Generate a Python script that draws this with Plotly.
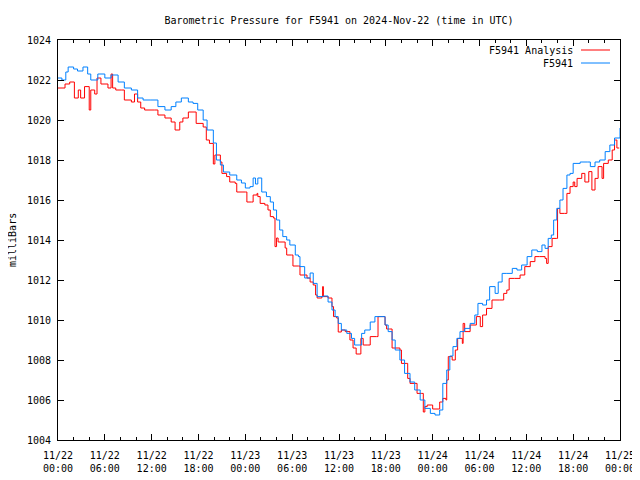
import pandas as pd
import plotly.graph_objects as go

BASE = "2024-11-22 00:00"

analysis_hours = [0, 0.9, 1.5, 2.1, 2.6, 2.9, 3.4, 4.0, 4.2, 4.7, 5.0, 5.5, 6.4, 6.8, 7.0, 7.4, 8.1, 8.5, 9.4, 9.8,
                  10.2, 10.6, 11.1, 12.4, 12.8, 13.7, 14.5, 15.0, 15.6, 16.0, 16.7, 17.3, 17.7, 18.6, 19.0, 19.4,
                  19.9, 20.1, 20.8, 21.0, 21.6, 22.0, 22.7, 22.9, 24.0, 24.2, 24.8, 25.0, 25.5, 25.6, 25.9, 26.5,
                  26.9, 27.2, 27.6, 27.8, 28.0, 28.2, 28.7, 29.1, 29.3, 29.9, 30.1, 30.8, 31.0, 31.6, 31.9, 32.3,
                  32.7, 33.0, 33.2, 33.8, 33.9, 34.0, 34.6, 35.1, 35.3, 35.7, 35.9, 36.3, 36.8, 37.4, 37.8, 38.2,
                  38.7, 38.8, 39.1, 39.7, 40.0, 40.8, 41.0, 41.5, 41.9, 42.1, 42.5, 42.8, 43.8, 44.0, 44.7, 44.8,
                  45.1, 45.7, 46.0, 46.6, 46.8, 47.0, 47.3, 47.9, 48.0, 48.7, 48.9, 49.3, 49.7, 49.8, 50.0, 50.5,
                  50.9, 51.2, 51.8, 51.9, 52.1, 52.8, 53.6, 54.1, 54.4, 54.9, 55.6, 56.6, 57.1, 57.5, 57.8, 58.5,
                  59.2, 59.8, 60.5, 61.1, 61.7, 62.4, 62.6, 62.8, 63.3, 63.9, 64.0, 64.3, 64.9, 65.2, 65.6, 66.0,
                  66.2, 66.5, 67.1, 67.5, 68.0, 68.4, 68.8, 69.2, 69.7, 69.9, 70.5, 71.0, 71.3, 71.6, 71.9]
analysis_mb = [1021.6, 1021.8, 1021.9, 1021.1, 1021.5, 1021.1, 1021.67, 1020.5, 1021.5, 1021.3, 1022.1, 1021.8,
               1021.6, 1022.3, 1021.6, 1021.5, 1021.5, 1021.0, 1020.9, 1021.3, 1020.9, 1020.6, 1020.5, 1020.5,
               1020.25, 1020.1, 1019.9, 1019.5, 1019.9, 1020.1, 1020.4, 1020.4, 1019.83, 1019.65, 1019.0, 1018.83,
               1017.8, 1018.25, 1017.9, 1017.33, 1017.17, 1016.9, 1016.83, 1016.4, 1016.4, 1015.9, 1015.9, 1016.25,
               1016.33, 1016.17, 1015.83, 1015.75, 1015.5, 1015.17, 1015.1, 1013.67, 1014.1, 1013.9, 1013.9,
               1013.6, 1013.25, 1013.25, 1012.7, 1012.7, 1012.25, 1012.25, 1012.1, 1011.9, 1011.75, 1011.25,
               1011.1, 1011.17, 1011.67, 1011.17, 1011.1, 1010.67, 1010.17, 1010.1, 1009.4, 1009.5, 1009.42,
               1009.0, 1008.6, 1008.3, 1008.3, 1009.08, 1008.75, 1008.75, 1009.17, 1009.17, 1010.17, 1010.17,
               1009.75, 1009.55, 1009.55, 1008.6, 1008.5, 1007.83, 1007.83, 1007.08, 1006.83, 1006.83, 1006.33,
               1006.33, 1005.4, 1005.67, 1005.75, 1005.75, 1005.55, 1005.55, 1005.9, 1006.08, 1006.0, 1007.0,
               1008.17, 1008.0, 1008.5, 1009.08, 1008.83, 1009.83, 1009.42, 1009.75, 1010.17, 1009.67, 1010.25,
               1010.58, 1011.0, 1011.0, 1011.33, 1011.5, 1012.08, 1012.08, 1012.25, 1012.67, 1012.92, 1013.17,
               1013.17, 1013.08, 1012.83, 1013.67, 1014.08, 1014.08, 1015.58, 1015.33, 1015.33, 1016.33, 1016.67,
               1016.9, 1016.67, 1017.08, 1017.33, 1016.9, 1017.42, 1016.5, 1017.08, 1017.67, 1017.08, 1017.83,
               1018.0, 1018.5, 1019.0, 1018.6, 1018.6]

station_hours = [0, 0.5, 1.0, 1.3, 2.0, 2.5, 3.2, 3.8, 4.2, 5.1, 6.0, 6.8, 7.7, 8.5, 9.4, 10.2, 10.9, 11.9, 12.8,
                 13.7, 14.5, 15.1, 15.8, 16.7, 17.3, 17.9, 18.6, 19.1, 19.9, 20.3, 20.8, 21.2, 22.0, 22.9, 23.5,
                 24.0, 24.6, 25.0, 25.3, 25.6, 26.1, 26.7, 27.2, 27.6, 28.0, 28.4, 28.8, 29.3, 29.7, 30.4, 30.8,
                 31.0, 31.6, 32.3, 32.7, 33.2, 34.0, 34.6, 35.1, 35.5, 35.9, 36.3, 37.0, 37.6, 38.0, 38.7, 38.9,
                 39.3, 40.0, 40.6, 41.5, 41.9, 42.3, 42.8, 43.2, 43.8, 44.4, 45.1, 45.7, 46.4, 47.0, 47.7, 48.3,
                 48.9, 49.3, 49.8, 50.2, 50.6, 51.1, 51.5, 52.1, 52.8, 53.4, 53.8, 54.4, 54.9, 55.3, 56.0, 56.4,
                 56.9, 57.5, 58.2, 58.8, 59.4, 60.1, 60.7, 61.4, 62.0, 62.4, 62.8, 63.2, 63.5, 63.9, 64.3, 64.7,
                 65.2, 65.6, 66.0, 66.9, 67.8, 68.2, 68.8, 69.4, 70.1, 70.7, 71.3, 72.0]
station_mb = [1022.1, 1022.0, 1022.4, 1022.65, 1022.55, 1022.45, 1022.65, 1022.3, 1022.0, 1022.3, 1022.1, 1022.25,
              1021.9, 1021.6, 1021.5, 1021.1, 1021.0, 1021.0, 1020.67, 1020.5, 1020.67, 1020.9, 1021.1, 1020.9,
              1020.83, 1020.5, 1020.0, 1019.5, 1018.85, 1018.0, 1017.75, 1017.4, 1017.25, 1017.0, 1016.85, 1016.6,
              1016.67, 1017.1, 1016.8, 1017.1, 1016.4, 1016.17, 1015.9, 1015.5, 1015.0, 1014.5, 1014.17, 1014.0,
              1013.75, 1013.25, 1013.17, 1012.67, 1012.1, 1012.35, 1011.83, 1011.17, 1011.2, 1010.9, 1010.5,
              1010.17, 1009.83, 1009.5, 1009.33, 1009.08, 1008.75, 1008.75, 1009.33, 1009.5, 1009.9, 1010.17,
              1010.17, 1009.75, 1009.42, 1009.0, 1008.5, 1008.0, 1007.33, 1006.9, 1006.5, 1006.0, 1005.58,
              1005.33, 1005.25, 1005.5, 1006.83, 1007.5, 1008.2, 1008.67, 1009.08, 1009.42, 1009.58, 1009.83,
              1010.25, 1010.83, 1010.75, 1011.0, 1011.67, 1011.33, 1011.9, 1012.33, 1012.33, 1012.58, 1012.5,
              1012.75, 1013.17, 1013.5, 1013.42, 1013.75, 1013.58, 1014.08, 1014.25, 1015.0, 1015.58, 1016.0,
              1016.58, 1017.25, 1017.33, 1017.83, 1017.9, 1017.9, 1017.67, 1017.9, 1018.0, 1018.42, 1018.75,
              1019.1, 1019.6]

series_names = ["F5941 Analysis", "F5941"]
series_colors = ["#ff0000", "#0080ff"]
y_ticks = [1004, 1006, 1008, 1010, 1012, 1014, 1016, 1018, 1020, 1022, 1024]
title_text = "Barometric Pressure for F5941 on 2024-Nov-22 (time in UTC)"
y_title = "milliBars"

base = pd.Timestamp(BASE)
t_analysis = base + pd.to_timedelta(analysis_hours, unit="h")
t_station = base + pd.to_timedelta(station_hours, unit="h")

FONT = "DejaVu Sans Mono"
fig = go.Figure()
fig.add_trace(go.Scatter(x=t_analysis, y=analysis_mb, mode="lines", name=series_names[0],
                         line=dict(color=series_colors[0], width=1, shape="hv")))
fig.add_trace(go.Scatter(x=t_station, y=station_mb, mode="lines", name=series_names[1],
                         line=dict(color=series_colors[1], width=1, shape="hv")))

# page has an 8px body margin: figure is placed at (8, 8)
OFF = 8
W, H = 640 - OFF, 480 - OFF
L, T = 58 - OFF, 40 - OFF
R, B = 20, 40
pw, ph = W - L - R, H - T - B

fig.update_layout(
    width=W, height=H,
    margin=dict(l=L, r=R, t=T, b=B, pad=0, autoexpand=False),
    paper_bgcolor="white", plot_bgcolor="white",
    showlegend=False,
    font=dict(family=FONT, size=10, color="black"),
    title=dict(text=title_text, x=0.5, xref="paper", xanchor="center",
               y=(H - (20 - OFF)) / H, yref="container", yanchor="middle",
               font=dict(family=FONT, size=10, color="black")),
)
fig.update_xaxes(
    range=[base, base + pd.Timedelta(hours=72)], automargin=False,
    tickformat="%m/%d<br>%H:%M", dtick=6 * 3600 * 1000, tick0=base,
    ticks="inside", ticklen=6, tickcolor="black", tickwidth=1,
    minor=dict(dtick=2 * 3600 * 1000, ticks="inside", ticklen=3, tickcolor="black", tickwidth=1, showgrid=False),
    showline=True, linecolor="black", linewidth=1, mirror="allticks",
    showgrid=False, zeroline=False, ticklabelstandoff=6,
    tickfont=dict(family=FONT, size=10, color="black"),
)
fig.update_yaxes(
    range=[1004, 1024], tickvals=y_ticks, ticktext=[str(v) for v in y_ticks], automargin=False,
    ticks="inside", ticklen=6, tickcolor="black", tickwidth=1,
    showline=True, linecolor="black", linewidth=1, mirror="allticks",
    showgrid=False, zeroline=False, ticklabelstandoff=4,
    tickfont=dict(family=FONT, size=10, color="black"),
)

fig.add_annotation(text=y_title, textangle=-90, xref="paper", yref="paper",
                   x=(12 - 58) / pw, y=0.5, xanchor="center", yanchor="middle", showarrow=False,
                   font=dict(family=FONT, size=10, color="black"))

legend_rows_y = [50, 63]
for name, color, ypx in zip(series_names, series_colors, legend_rows_y):
    yp = (440 - ypx) / ph
    fig.add_annotation(text=name, xref="paper", yref="paper", x=(575 - 58) / pw, y=yp,
                       xanchor="right", yanchor="middle", showarrow=False,
                       font=dict(family=FONT, size=10, color="black"))
    fig.add_shape(type="line", xref="paper", yref="paper", x0=(581 - 58) / pw, x1=(610 - 58) / pw,
                  y0=yp, y1=yp, line=dict(color=color, width=1))

fig.write_html("out.html")
